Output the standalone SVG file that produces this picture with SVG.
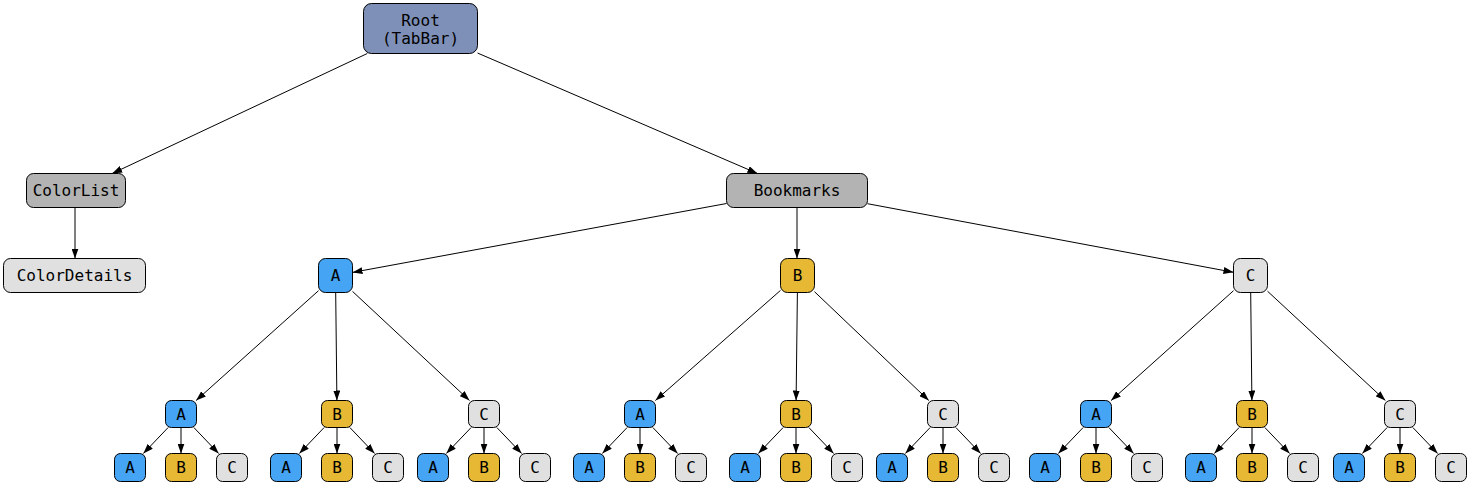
<svg xmlns="http://www.w3.org/2000/svg" width="1472" height="489" viewBox="0 0 1472 489">
<defs>
<marker id="arr" viewBox="0 0 10 7" refX="10" refY="3.5" markerWidth="10" markerHeight="7" markerUnits="userSpaceOnUse" orient="auto">
<path d="M0,0 L10,3.5 L0,7 z" fill="#000"/>
</marker>
<style>
rect{stroke:#000;stroke-width:1}
.root{fill:#7F90B8}
.dark{fill:#B3B3B3}
.light{fill:#E0E0E0}
.blue{fill:#45A4F3}
.gold{fill:#E6B833}
text{font-family:"DejaVu Sans Mono","Liberation Mono",monospace;font-size:16px;fill:#000;text-anchor:middle}
#edges line{stroke:#000;stroke-width:1;marker-end:url(#arr)}
</style>
</defs>
<g id="edges">
<line x1="367.3" y1="53.5" x2="112.2" y2="173.5"/>
<line x1="477.5" y1="53" x2="757.5" y2="173.5"/>
<line x1="75" y1="207.5" x2="75" y2="258.5"/>
<line x1="726.5" y1="203.5" x2="352.5" y2="272.4"/>
<line x1="797" y1="207.5" x2="797" y2="258.5"/>
<line x1="867.5" y1="203.7" x2="1233.5" y2="272.3"/>
<line x1="318.5" y1="290.7" x2="196.1" y2="400.5"/>
<line x1="335.7" y1="292.5" x2="336.9" y2="400.5"/>
<line x1="352.5" y1="291.4" x2="469.5" y2="400.5"/>
<line x1="780.5" y1="290.4" x2="655.4" y2="400.5"/>
<line x1="797.4" y1="292.5" x2="796.1" y2="400.5"/>
<line x1="814.5" y1="291.7" x2="928.8" y2="400.5"/>
<line x1="1233.5" y1="290.7" x2="1111.1" y2="400.5"/>
<line x1="1250.7" y1="292.5" x2="1251.9" y2="400.5"/>
<line x1="1267.5" y1="291.2" x2="1385.4" y2="400.5"/>
<line x1="168.15" y1="427.5" x2="143.35" y2="453.5"/>
<line x1="181" y1="427.5" x2="181" y2="453.5"/>
<line x1="193.85" y1="427.5" x2="218.65" y2="453.5"/>
<line x1="324.15" y1="427.5" x2="299.35" y2="453.5"/>
<line x1="337" y1="427.5" x2="337" y2="453.5"/>
<line x1="349.85" y1="427.5" x2="374.65" y2="453.5"/>
<line x1="471.15" y1="427.5" x2="446.35" y2="453.5"/>
<line x1="484" y1="427.5" x2="484" y2="453.5"/>
<line x1="496.85" y1="427.5" x2="521.65" y2="453.5"/>
<line x1="627.15" y1="427.5" x2="602.35" y2="453.5"/>
<line x1="640" y1="427.5" x2="640" y2="453.5"/>
<line x1="652.85" y1="427.5" x2="677.65" y2="453.5"/>
<line x1="783.15" y1="427.5" x2="758.35" y2="453.5"/>
<line x1="796" y1="427.5" x2="796" y2="453.5"/>
<line x1="808.85" y1="427.5" x2="833.65" y2="453.5"/>
<line x1="930.15" y1="427.5" x2="905.35" y2="453.5"/>
<line x1="943" y1="427.5" x2="943" y2="453.5"/>
<line x1="955.85" y1="427.5" x2="980.65" y2="453.5"/>
<line x1="1083.15" y1="427.5" x2="1058.35" y2="453.5"/>
<line x1="1096" y1="427.5" x2="1096" y2="453.5"/>
<line x1="1108.85" y1="427.5" x2="1133.65" y2="453.5"/>
<line x1="1239.15" y1="427.5" x2="1214.35" y2="453.5"/>
<line x1="1252" y1="427.5" x2="1252" y2="453.5"/>
<line x1="1264.85" y1="427.5" x2="1289.65" y2="453.5"/>
<line x1="1387.15" y1="427.5" x2="1362.35" y2="453.5"/>
<line x1="1400" y1="427.5" x2="1400" y2="453.5"/>
<line x1="1412.85" y1="427.5" x2="1437.65" y2="453.5"/>
</g>
<g id="root"><rect class="root" x="363.5" y="3.5" width="114" height="50" rx="8"/><text x="420.5" y="25.5">Root</text><text x="420.5" y="43.5">(TabBar)</text></g>
<g id="colorlist"><rect class="dark" x="26.5" y="173.5" width="99" height="34" rx="7"/><text x="76" y="196.3">ColorList</text></g>
<g id="colordetails"><rect class="light" x="3.5" y="258.5" width="142" height="34" rx="7"/><text x="74.5" y="281.3">ColorDetails</text></g>
<g id="bookmarks"><rect class="dark" x="726.5" y="173.5" width="141" height="34" rx="7"/><text x="797" y="196.3">Bookmarks</text></g>
<g id="a"><rect class="blue" x="318.5" y="258.5" width="34" height="34" rx="7"/><text x="335.5" y="281.3">A</text></g>
<g id="b"><rect class="gold" x="780.5" y="258.5" width="34" height="34" rx="7"/><text x="797.5" y="281.3">B</text></g>
<g id="c"><rect class="light" x="1233.5" y="258.5" width="34" height="34" rx="7"/><text x="1250.5" y="281.3">C</text></g>
<g id="aa"><rect class="blue" x="165.5" y="400.5" width="31" height="27" rx="6"/><text x="181" y="419.8">A</text></g>
<g id="ab"><rect class="gold" x="321.5" y="400.5" width="31" height="27" rx="6"/><text x="337" y="419.8">B</text></g>
<g id="ac"><rect class="light" x="468.5" y="400.5" width="31" height="27" rx="6"/><text x="484" y="419.8">C</text></g>
<g id="ba"><rect class="blue" x="624.5" y="400.5" width="31" height="27" rx="6"/><text x="640" y="419.8">A</text></g>
<g id="bb"><rect class="gold" x="780.5" y="400.5" width="31" height="27" rx="6"/><text x="796" y="419.8">B</text></g>
<g id="bc"><rect class="light" x="927.5" y="400.5" width="31" height="27" rx="6"/><text x="943" y="419.8">C</text></g>
<g id="ca"><rect class="blue" x="1080.5" y="400.5" width="31" height="27" rx="6"/><text x="1096" y="419.8">A</text></g>
<g id="cb"><rect class="gold" x="1236.5" y="400.5" width="31" height="27" rx="6"/><text x="1252" y="419.8">B</text></g>
<g id="cc"><rect class="light" x="1384.5" y="400.5" width="31" height="27" rx="6"/><text x="1400" y="419.8">C</text></g>
<g id="aaa"><rect class="blue" x="114.5" y="453.5" width="31" height="28" rx="6"/><text x="130" y="473.3">A</text></g>
<g id="aab"><rect class="gold" x="165.5" y="453.5" width="31" height="28" rx="6"/><text x="181" y="473.3">B</text></g>
<g id="aac"><rect class="light" x="216.5" y="453.5" width="31" height="28" rx="6"/><text x="232" y="473.3">C</text></g>
<g id="aba"><rect class="blue" x="270.5" y="453.5" width="31" height="28" rx="6"/><text x="286" y="473.3">A</text></g>
<g id="abb"><rect class="gold" x="321.5" y="453.5" width="31" height="28" rx="6"/><text x="337" y="473.3">B</text></g>
<g id="abc"><rect class="light" x="372.5" y="453.5" width="31" height="28" rx="6"/><text x="388" y="473.3">C</text></g>
<g id="aca"><rect class="blue" x="417.5" y="453.5" width="31" height="28" rx="6"/><text x="433" y="473.3">A</text></g>
<g id="acb"><rect class="gold" x="468.5" y="453.5" width="31" height="28" rx="6"/><text x="484" y="473.3">B</text></g>
<g id="acc"><rect class="light" x="519.5" y="453.5" width="31" height="28" rx="6"/><text x="535" y="473.3">C</text></g>
<g id="baa"><rect class="blue" x="573.5" y="453.5" width="31" height="28" rx="6"/><text x="589" y="473.3">A</text></g>
<g id="bab"><rect class="gold" x="624.5" y="453.5" width="31" height="28" rx="6"/><text x="640" y="473.3">B</text></g>
<g id="bac"><rect class="light" x="675.5" y="453.5" width="31" height="28" rx="6"/><text x="691" y="473.3">C</text></g>
<g id="bba"><rect class="blue" x="729.5" y="453.5" width="31" height="28" rx="6"/><text x="745" y="473.3">A</text></g>
<g id="bbb"><rect class="gold" x="780.5" y="453.5" width="31" height="28" rx="6"/><text x="796" y="473.3">B</text></g>
<g id="bbc"><rect class="light" x="831.5" y="453.5" width="31" height="28" rx="6"/><text x="847" y="473.3">C</text></g>
<g id="bca"><rect class="blue" x="876.5" y="453.5" width="31" height="28" rx="6"/><text x="892" y="473.3">A</text></g>
<g id="bcb"><rect class="gold" x="927.5" y="453.5" width="31" height="28" rx="6"/><text x="943" y="473.3">B</text></g>
<g id="bcc"><rect class="light" x="978.5" y="453.5" width="31" height="28" rx="6"/><text x="994" y="473.3">C</text></g>
<g id="caa"><rect class="blue" x="1029.5" y="453.5" width="31" height="28" rx="6"/><text x="1045" y="473.3">A</text></g>
<g id="cab"><rect class="gold" x="1080.5" y="453.5" width="31" height="28" rx="6"/><text x="1096" y="473.3">B</text></g>
<g id="cac"><rect class="light" x="1131.5" y="453.5" width="31" height="28" rx="6"/><text x="1147" y="473.3">C</text></g>
<g id="cba"><rect class="blue" x="1185.5" y="453.5" width="31" height="28" rx="6"/><text x="1201" y="473.3">A</text></g>
<g id="cbb"><rect class="gold" x="1236.5" y="453.5" width="31" height="28" rx="6"/><text x="1252" y="473.3">B</text></g>
<g id="cbc"><rect class="light" x="1287.5" y="453.5" width="31" height="28" rx="6"/><text x="1303" y="473.3">C</text></g>
<g id="cca"><rect class="blue" x="1333.5" y="453.5" width="31" height="28" rx="6"/><text x="1349" y="473.3">A</text></g>
<g id="ccb"><rect class="gold" x="1384.5" y="453.5" width="31" height="28" rx="6"/><text x="1400" y="473.3">B</text></g>
<g id="ccc"><rect class="light" x="1435.5" y="453.5" width="31" height="28" rx="6"/><text x="1451" y="473.3">C</text></g>
</svg>
